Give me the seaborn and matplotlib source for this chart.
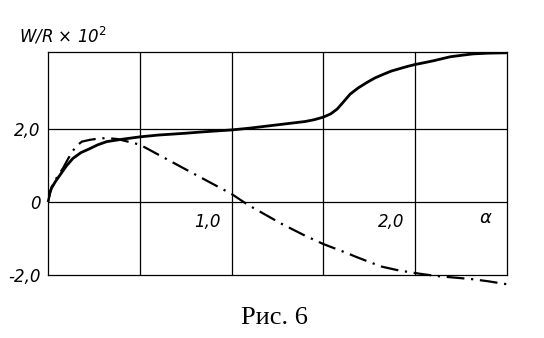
import matplotlib
matplotlib.use("Agg")
import matplotlib.pyplot as plt
import seaborn as sns
import pandas as pd

# ---- data ----
alpha_solid = [0.0, 0.01, 0.02, 0.04, 0.065, 0.1, 0.136, 0.18, 0.229, 0.27,
               0.32, 0.41, 0.5, 0.6, 0.75, 0.85, 1.0, 1.1, 1.2, 1.3, 1.4,
               1.45, 1.5, 1.54, 1.575, 1.61, 1.646, 1.69, 1.738, 1.78,
               1.826, 1.87, 1.918, 1.96, 2.0, 2.05, 2.098, 2.14, 2.19,
               2.25, 2.316, 2.4, 2.5]
w_solid = [0.0, 0.25, 0.38, 0.55, 0.73, 0.98, 1.19, 1.35, 1.46, 1.56,
           1.65, 1.72, 1.78, 1.83, 1.88, 1.92, 1.97, 2.02, 2.08, 2.14, 2.2,
           2.25, 2.32, 2.41, 2.54, 2.74, 2.95, 3.12, 3.27, 3.39,
           3.49, 3.58, 3.65, 3.71, 3.76, 3.81, 3.86, 3.91, 3.97,
           4.01, 4.05, 4.07, 4.08]

alpha_dash = [0.0, 0.02, 0.05, 0.082, 0.11, 0.136, 0.16, 0.185, 0.229, 0.27,
              0.32, 0.38, 0.436, 0.5, 0.74, 1.0, 1.09, 1.27, 1.4, 1.5, 1.63,
              1.673, 1.75, 1.82, 1.9, 1.97, 2.05, 2.13, 2.22, 2.31, 2.4, 2.5]
w_dash = [0.0, 0.4, 0.68, 0.92, 1.18, 1.4, 1.55, 1.65, 1.7, 1.73,
          1.75, 1.72, 1.65, 1.57, 0.92, 0.22, -0.08, -0.59, -0.92, -1.15, -1.40,
          -1.49, -1.64, -1.77, -1.86, -1.92, -1.98, -2.03, -2.07, -2.11, -2.17, -2.25]

x_grid = [0.5, 1.0, 1.5, 2.0]
y_grid = [0.0, 2.0]
y_ticks = [-2.0, 0.0, 2.0]
y_labels = ["-2,0", "0", "2,0"]
x_label_pos = [1.0, 2.0]
x_labels = ["1,0", "2,0"]
caption = "Рис. 6"

sns.set_style("white")
plt.rcParams['font.family'] = ['DejaVu Sans']
plt.rcParams['text.color'] = 'black'
plt.rcParams['ytick.color'] = 'black'

fig = plt.figure(figsize=(5.44, 3.38), dpi=100)
ax = fig.add_axes([0.088, 0.186, 0.844, 0.660])

df_s = pd.DataFrame({"alpha": alpha_solid, "W": w_solid})
df_d = pd.DataFrame({"alpha": alpha_dash, "W": w_dash})

for xv in x_grid:
    ax.axvline(xv, color="black", lw=0.9, zorder=1)
for yv in y_grid:
    ax.axhline(yv, color="black", lw=0.9, zorder=1)

sns.lineplot(data=df_s, x="alpha", y="W", ax=ax, color="black", lw=2.0,
             sort=False, estimator=None, zorder=3, solid_joinstyle="round")
sns.lineplot(data=df_d, x="alpha", y="W", ax=ax, color="black", lw=1.6,
             sort=False, estimator=None, zorder=3, clip_on=False,
             linestyle=(0, (8, 3, 1, 3)), dash_joinstyle="round")

ax.set_xlim(0, 2.5)
ax.set_ylim(-2.0, 4.1)
for s in ax.spines.values():
    s.set_visible(True)
    s.set_color("black")
    s.set_linewidth(0.9)

ax.set_xticks([])
ax.set_yticks(y_ticks)
ax.set_yticklabels(y_labels, fontsize=12, fontstyle="italic", color="black")
ax.tick_params(axis="y", length=0, pad=5)
ax.set_xlabel("")
ax.set_ylabel("")

for xp, lab in zip(x_label_pos, x_labels):
    ax.text(xp - 0.06, -0.55, lab, ha="right", va="center", fontsize=12,
            fontstyle="italic")
ax.text(2.38, -0.45, "α", ha="center", va="center", fontsize=13,
        fontstyle="italic")

fig.text(0.035, 0.895, "W/R × 10$^{2}$", ha="left", va="center", fontsize=12,
         fontstyle="italic")
fig.text(0.505, 0.058, caption, ha="center", va="center", fontsize=19,
         family=["Liberation Serif", "DejaVu Serif"])

fig.savefig("out.png", dpi=100)
